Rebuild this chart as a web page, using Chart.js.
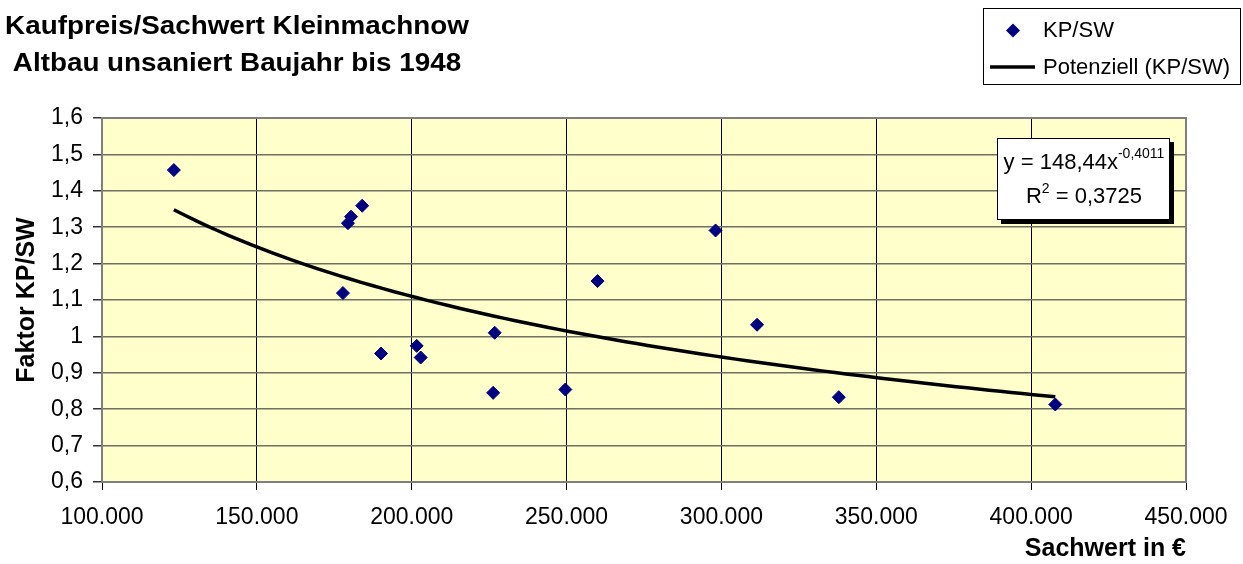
<!DOCTYPE html>
<html>
<head>
<meta charset="utf-8">
<script src="https://cdn.jsdelivr.net/npm/chart.js@4/dist/chart.umd.min.js"></script>
<style>
  html, body { margin: 0; padding: 0; background: #ffffff; }
  #wrap { width: 1243px; height: 564px; }
</style>
</head>
<body>
<div id="wrap"><canvas id="chart" width="1243" height="564"></canvas></div>
<script>
// Chart title (two lines)
const titleLines = ['Kaufpreis/Sachwert Kleinmachnow', 'Altbau unsaniert Baujahr bis 1948'];

// Observed sales: Sachwert (EUR) and ratio Kaufpreis/Sachwert
const sachwert = [123200, 184000, 180400, 179400, 177800, 190100, 201600, 202900,
                  226800, 226300, 249600, 260000, 298100, 311500, 337900, 407800];
const faktor   = [1.457, 1.359, 1.329, 1.311, 1.119, 0.953, 0.974, 0.942,
                  1.010, 0.845, 0.854, 1.152, 1.291, 1.032, 0.833, 0.813];

// Axis tick labels (German number format)
const xTickLabels = ['100.000', '150.000', '200.000', '250.000', '300.000', '350.000', '400.000', '450.000'];
const yTickLabels = ['0,6', '0,7', '0,8', '0,9', '1', '1,1', '1,2', '1,3', '1,4', '1,5', '1,6'];

// Power trendline y = a * x^b with its coefficient of determination
const trendA = 148.44;
const trendB = -0.4011;
const trendR2 = 0.3725;

const seriesLabel = 'KP/SW';
const trendLabel = 'Potenziell (KP/SW)';
const xTitle = 'Sachwert in €';
const yTitle = 'Faktor KP/SW';

const FONT = "'Liberation Sans', Arial, sans-serif";
const deNum = v => String(v).replace('.', ',');

// Trendline evaluated over the span of the observed Sachwert values
const xMin = Math.min(...sachwert), xMax = Math.max(...sachwert);
const trendPoints = [];
const steps = 80;
for (let i = 0; i <= steps; i++) {
  const x = xMin + (xMax - xMin) * i / steps;
  trendPoints.push({ x: x, y: trendA * Math.pow(x, trendB) });
}

const scatterPoints = sachwert.map((x, i) => ({ x: x, y: faktor[i] }));

// Plot background and frame
const plotFrame = {
  id: 'plotFrame',
  beforeDraw(chart) {
    const { ctx, chartArea: a } = chart;
    ctx.save();
    ctx.fillStyle = '#FFFFCC';
    ctx.fillRect(a.left, a.top, a.right - a.left, a.bottom - a.top);
    ctx.restore();
  },
  beforeDatasetsDraw(chart) {
    const { ctx, chartArea: a } = chart;
    ctx.save();
    ctx.strokeStyle = '#7f7f7f';
    ctx.lineWidth = 2;
    ctx.strokeRect(a.left, a.top, a.right - a.left, a.bottom - a.top);
    ctx.restore();
  }
};

// Title, legend box and trendline equation box
const annotations = {
  id: 'annotations',
  afterDraw(chart) {
    const ctx = chart.ctx;
    ctx.save();

    // Title, slightly widened bold face
    ctx.fillStyle = '#000';
    ctx.font = 'bold 26px ' + FONT;
    ctx.textAlign = 'center';
    ctx.textBaseline = 'alphabetic';
    ctx.save();
    ctx.translate(237, 0);
    ctx.scale(1.07, 1);
    ctx.fillText(titleLines[0], 0, 34);
    ctx.fillText(titleLines[1], 0, 71);
    ctx.restore();

    // Legend
    const ds = chart.data.datasets;
    ctx.strokeStyle = '#000';
    ctx.lineWidth = 1;
    ctx.strokeRect(983.5, 8.5, 257, 76);
    // diamond marker
    ctx.fillStyle = ds[0].backgroundColor;
    ctx.beginPath();
    ctx.moveTo(1013, 23.5); ctx.lineTo(1020, 30.5); ctx.lineTo(1013, 37.5); ctx.lineTo(1006, 30.5);
    ctx.closePath();
    ctx.fill();
    // line sample
    ctx.strokeStyle = ds[1].borderColor;
    ctx.lineWidth = ds[1].borderWidth;
    ctx.beginPath();
    ctx.moveTo(990, 67); ctx.lineTo(1035, 67);
    ctx.stroke();
    ctx.fillStyle = '#000';
    ctx.font = '22px ' + FONT;
    ctx.textAlign = 'left';
    ctx.textBaseline = 'middle';
    ctx.fillText(ds[0].label, 1043, 31);
    ctx.fillText(ds[1].label, 1043, 68);

    // Equation box with shadow
    const bx = 997, by = 138, bw = 173, bh = 82;
    ctx.fillStyle = '#000';
    ctx.fillRect(bx + 4, by + 4, bw, bh);
    ctx.fillStyle = '#fff';
    ctx.fillRect(bx, by, bw, bh);
    ctx.strokeStyle = '#000';
    ctx.lineWidth = 1;
    ctx.strokeRect(bx + 0.5, by + 0.5, bw - 1, bh - 1);

    ctx.fillStyle = '#000';
    ctx.textBaseline = 'alphabetic';
    ctx.textAlign = 'left';
    const cx = 1084;
    // line 1: y = a x^b
    const l1a = 'y = ' + deNum(trendA) + 'x';
    const l1b = deNum(trendB);
    ctx.font = '22px ' + FONT;
    const w1a = ctx.measureText(l1a).width;
    ctx.font = '14px ' + FONT;
    const w1b = ctx.measureText(l1b).width;
    let sx = cx - (w1a + w1b) / 2;
    ctx.font = '22px ' + FONT;
    ctx.fillText(l1a, sx, 169);
    ctx.font = '14px ' + FONT;
    ctx.fillText(l1b, sx + w1a, 158);
    // line 2: R^2 = value
    const l2a = 'R', l2b = '2', l2c = ' = ' + deNum(trendR2);
    ctx.font = '22px ' + FONT;
    const w2a = ctx.measureText(l2a).width, w2c = ctx.measureText(l2c).width;
    ctx.font = '14px ' + FONT;
    const w2b = ctx.measureText(l2b).width;
    sx = cx - (w2a + w2b + w2c) / 2;
    ctx.font = '22px ' + FONT;
    ctx.fillText(l2a, sx, 203);
    ctx.fillText(l2c, sx + w2a + w2b, 203);
    ctx.font = '14px ' + FONT;
    ctx.fillText(l2b, sx + w2a, 193);

    ctx.restore();
  }
};

new Chart(document.getElementById('chart'), {
  type: 'scatter',
  data: {
    datasets: [
      {
        label: seriesLabel,
        data: scatterPoints,
        pointStyle: 'rectRot',
        pointRadius: 6.5,
        pointHoverRadius: 6.5,
        backgroundColor: '#000080',
        borderColor: '#000080',
        borderWidth: 1
      },
      {
        type: 'line',
        label: trendLabel,
        data: trendPoints,
        borderColor: '#000000',
        borderWidth: 3.5,
        pointRadius: 0,
        fill: false,
        tension: 0
      }
    ]
  },
  options: {
    responsive: false,
    animation: false,
    devicePixelRatio: 1,
    layout: { padding: { left: 0, right: 57, top: 118, bottom: 0 } },
    plugins: {
      legend: { display: false },
      tooltip: { enabled: false },
      title: { display: false }
    },
    scales: {
      x: {
        type: 'linear',
        min: 100000,
        max: 450000,
        afterFit(scale) { scale.height = 82; },
        ticks: {
          stepSize: 50000,
          autoSkip: false,
          maxRotation: 0,
          padding: 14,
          color: '#000',
          font: { family: FONT, size: 23 },
          callback: (v, i) => xTickLabels[i]
        },
        grid: { color: '#000', lineWidth: 1, tickLength: 8, tickColor: '#000' },
        border: { display: true, color: '#404040', width: 2 },
        title: {
          display: true,
          text: xTitle,
          align: 'end',
          color: '#000',
          font: { family: FONT, size: 25, weight: 'bold', lineHeight: 1.2 },
          padding: { top: 0, bottom: 0 }
        }
      },
      y: {
        type: 'linear',
        min: 0.6,
        max: 1.6,
        afterFit(scale) { scale.width = 102; },
        ticks: {
          stepSize: 0.1,
          autoSkip: false,
          padding: 10,
          color: '#000',
          font: { family: FONT, size: 23 },
          callback: (v, i) => yTickLabels[i]
        },
        grid: { color: '#707062', lineWidth: 1.5, tickLength: 9, tickColor: '#333' },
        border: { display: true, color: '#404040', width: 2 },
        title: {
          display: true,
          text: yTitle,
          color: '#000',
          font: { family: FONT, size: 25, weight: 'bold', lineHeight: 1.2 },
          padding: { top: 12, bottom: 0 }
        }
      }
    }
  },
  plugins: [plotFrame, annotations]
});
</script>
</body>
</html>
